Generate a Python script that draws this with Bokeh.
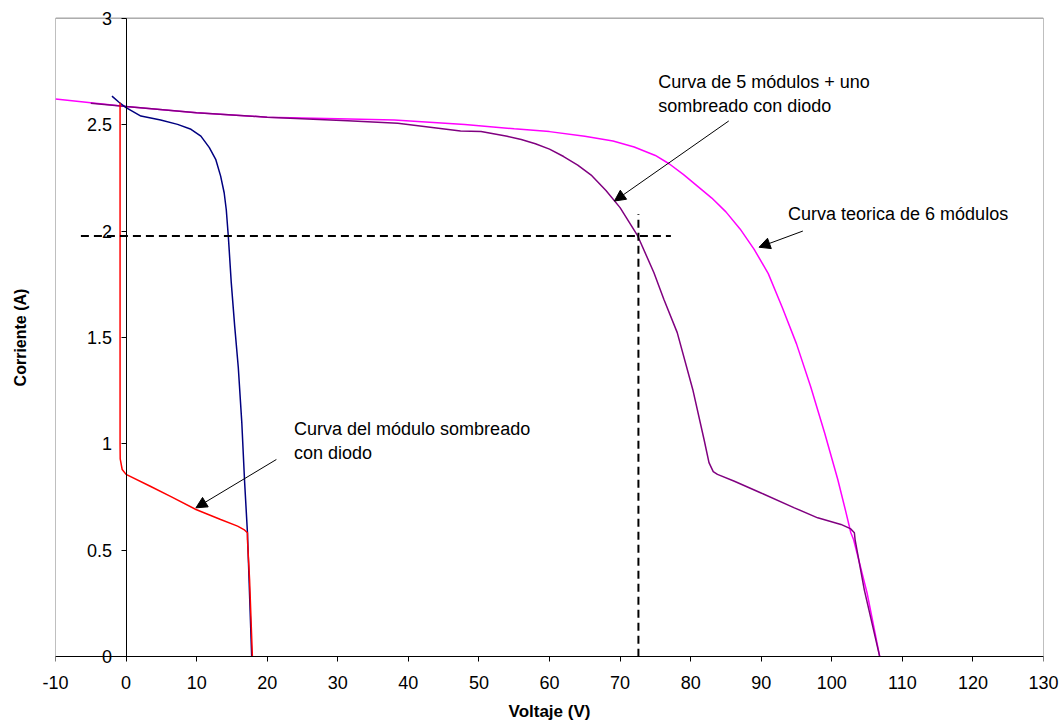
from bokeh.plotting import figure
from bokeh.models import Range1d, LinearAxis, FixedTicker, Arrow, NormalHead, Label
from bokeh.embed import file_html
from bokeh.resources import INLINE

# ---------------- data ----------------
x_ticks = [-10, 0, 10, 20, 30, 40, 50, 60, 70, 80, 90, 100, 110, 120, 130]
x_tick_labels = ["-10", "0", "10", "20", "30", "40", "50", "60", "70", "80", "90",
                 "100", "110", "120", "130"]
y_ticks = [0, 0.5, 1, 1.5, 2, 2.5, 3]
y_tick_labels = ["0", "0.5", "1", "1.5", "2", "2.5", "3"]

# Curva teorica de 6 modulos (magenta)
teorica_v = [-10, 0, 10, 20, 30, 38, 48, 55, 60, 65, 69, 72, 75, 77, 79, 81, 83, 85,
             87, 89, 91, 93, 95, 97, 99, 100.85, 102, 102.7, 103.1, 105, 106.8]
teorica_i = [2.62, 2.585, 2.556, 2.535, 2.528, 2.522, 2.50, 2.48, 2.467, 2.445, 2.423,
             2.395, 2.355, 2.315, 2.265, 2.21, 2.155, 2.09, 2.01, 1.914, 1.80, 1.64,
             1.47, 1.27, 1.05, 0.833, 0.68, 0.583, 0.55, 0.30, 0.0]

# Curva de 5 modulos + uno sombreado con diodo (purple)
cinco_v = [-5, 0, 10, 20, 31.4, 38.5, 47.4, 50.3, 54, 56, 58, 60, 62, 64, 66, 68, 70,
           72.5, 74.8, 76.2, 78.1, 80.3, 81.9, 82.6, 83.2, 83.8, 86.2, 89.9, 94.7,
           98.0, 101.3, 102.7, 103.2, 103.3, 104.6, 106.8]
cinco_i = [2.60, 2.585, 2.556, 2.535, 2.518, 2.506, 2.47, 2.468, 2.445, 2.43, 2.41,
           2.385, 2.35, 2.31, 2.26, 2.19, 2.11, 1.977, 1.804, 1.68, 1.523, 1.256,
           1.021, 0.912, 0.87, 0.857, 0.825, 0.771, 0.70, 0.653, 0.622, 0.601, 0.583,
           0.551, 0.316, 0.0]

# Modulo sin sombra (navy)
modulo_v = [-2.0, -1.0, 0, 2.1, 4.9, 7.3, 9.2, 10.6, 11.8, 12.7, 13.4, 13.9, 14.2,
            14.5, 14.9, 15.4, 15.9, 16.4, 16.8, 17.2, 17.8]
modulo_i = [2.634, 2.605, 2.58, 2.54, 2.522, 2.501, 2.478, 2.446, 2.392, 2.337, 2.258,
            2.18, 2.10, 1.97, 1.76, 1.55, 1.36, 1.10, 0.82, 0.583, 0.0]

# Curva del modulo sombreado con diodo (red)
sombreado_v = [-0.85, -0.85, -0.83, -0.55, 0, 3.5, 6.5, 9.9, 13.4, 15.8, 16.7, 17.2,
               17.2, 17.5, 17.9]
sombreado_i = [2.603, 1.0, 0.93, 0.88, 0.857, 0.80, 0.75, 0.692, 0.645, 0.614, 0.598,
               0.583, 0.551, 0.363, 0.0]

# Dashed reference lines (operating point)
hline_v = [-6.4, 77.2]
hline_i = [1.977, 1.977]
vline_v = [72.6, 72.6]
vline_i = [0.0, 2.08]

FONT = "Liberation Sans"
XMIN, XMAX = x_ticks[0], x_ticks[-1]
YMIN, YMAX = y_ticks[0], y_ticks[-1]
PAD = 0.05  # small vertical room so the "0" and "3" labels are not clipped

p = figure(width=1059, height=724, output_backend="svg", toolbar_location=None,
           x_range=Range1d(XMIN, XMAX), y_range=Range1d(YMIN - PAD, YMAX + PAD),
           min_border_left=55, min_border_right=16, min_border_top=7,
           min_border_bottom=57)
p.grid.visible = False
p.outline_line_color = None
p.background_fill_color = "white"
p.border_fill_color = "white"

# gray plot-area border (top, left, right)
p.line([XMIN, XMIN, XMAX, XMAX], [YMIN, YMAX, YMAX, YMIN], line_color="#808080",
       line_width=1)

# below axis: only tick labels and title
xa = p.xaxis[0]
xa.ticker = FixedTicker(ticks=x_ticks)
xa.major_label_overrides = {t: l for t, l in zip(x_ticks, x_tick_labels)}
xa.axis_line_color = None
xa.major_tick_out = 0
xa.major_tick_in = 0
xa.minor_tick_out = 0
xa.minor_tick_in = 0
xa.major_label_standoff = 8
xa.major_label_text_font = FONT
xa.major_label_text_font_size = "18px"
xa.major_label_text_color = "black"
xa.axis_label = "Voltaje (V)"
xa.axis_label_text_font = FONT
xa.axis_label_text_font_size = "17px"
xa.axis_label_text_font_style = "bold"
xa.axis_label_text_color = "black"
xa.axis_label_standoff = 10

# x axis line and ticks at I = 0
xax = LinearAxis(fixed_location=0, ticker=FixedTicker(ticks=x_ticks))
xax.axis_line_color = "black"
xax.major_tick_line_color = "black"
xax.major_tick_out = 5
xax.major_tick_in = 0
xax.minor_tick_out = 0
xax.minor_tick_in = 0
xax.major_label_text_font_size = "0px"
xax.major_label_text_alpha = 0
p.add_layout(xax, "below")

# default left axis: only the axis title
ya = p.yaxis[0]
ya.ticker = FixedTicker(ticks=[])
ya.axis_line_color = None
ya.major_tick_out = 0
ya.major_tick_in = 0
ya.minor_tick_out = 0
ya.minor_tick_in = 0
ya.axis_label = "Corriente (A)"
ya.axis_label_text_font = FONT
ya.axis_label_text_font_size = "16px"
ya.axis_label_text_font_style = "bold"
ya.axis_label_text_color = "black"
ya.axis_label_standoff = 27

# y axis crossing at V = 0 (line and ticks)
yax = LinearAxis(fixed_location=0, ticker=FixedTicker(ticks=y_ticks),
                 bounds=(YMIN, YMAX))
yax.axis_line_color = "black"
yax.major_tick_line_color = "black"
yax.major_tick_out = 5
yax.major_tick_in = 0
yax.minor_tick_out = 0
yax.minor_tick_in = 0
yax.major_label_text_font_size = "0px"
yax.major_label_text_alpha = 0
p.add_layout(yax, "left")

# y tick labels beside the crossing axis
for t, lab in zip(y_ticks, y_tick_labels):
    p.add_layout(Label(x=0, y=t, text=lab, x_offset=-14, text_align="right",
                       text_baseline="middle", text_font=FONT, text_font_size="18px",
                       text_color="black"))

# curves
p.line(teorica_v, teorica_i, line_color="#FF00FF", line_width=1.5)
p.line(cinco_v, cinco_i, line_color="#800080", line_width=1.5)
p.line(modulo_v, modulo_i, line_color="#000080", line_width=1.5)
p.line(sombreado_v, sombreado_i, line_color="#FF0000", line_width=1.5)

# dashed lines
p.line(hline_v, hline_i, line_color="black", line_width=2, line_dash="8 5")
p.line(vline_v, vline_i, line_color="black", line_width=2, line_dash="8 5")

# annotations
def arrow(xs, ys, xe, ye):
    p.add_layout(Arrow(end=NormalHead(size=11, fill_color="black", line_color="black",
                                      line_width=1),
                       x_start=xs, y_start=ys, x_end=xe, y_end=ye,
                       line_color="black", line_width=1))

arrow(21.3, 0.927, 9.9, 0.70)
arrow(85.4, 2.517, 69.2, 2.141)
arrow(95.9, 2.0, 89.7, 1.924)

def label(x, y, txt):
    p.add_layout(Label(x=x, y=y, text=txt, text_baseline="top", text_align="left",
                       text_font=FONT, text_font_size="18px", text_color="black"))

label(23.8, 1.115, "Curva del módulo sombreado\ncon diodo")
label(75.4, 2.746, "Curva de 5 módulos + uno\nsombreado con diodo")
label(93.8, 2.127, "Curva teorica de 6 módulos")

open("out.html", "w").write(file_html(p, INLINE))
